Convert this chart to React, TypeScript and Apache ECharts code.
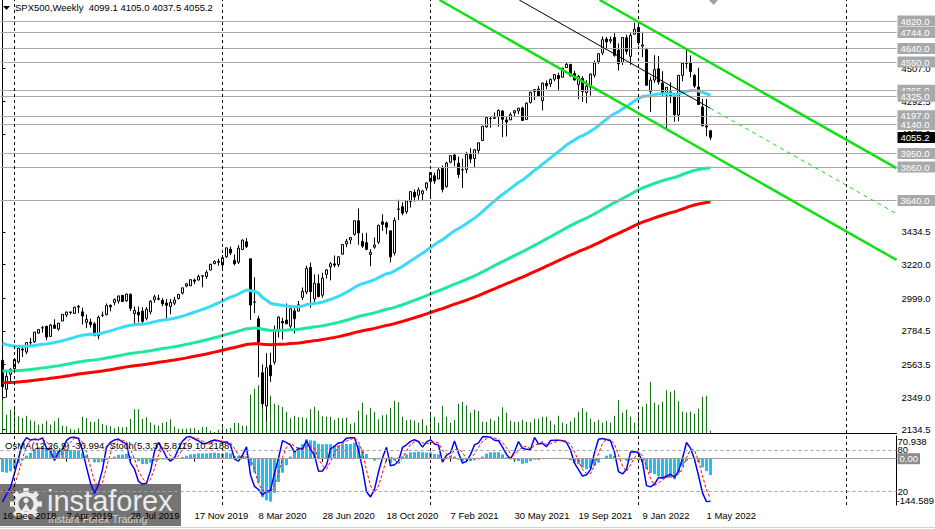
import React, { useEffect, useRef } from "react";
import * as echarts from "echarts";

// ---------- time axis ----------
const weekCount = 224; // weekly slots on the time axis (16 Dec 2018 ... end of shift area)
const labelStep = 16;
const dateLabels = [
  "16 Dec 2018", "7 Apr 2019", "28 Jul 2019", "17 Nov 2019", "8 Mar 2020", "28 Jun 2020",
  "18 Oct 2020", "7 Feb 2021", "30 May 2021", "19 Sep 2021", "9 Jan 2022", "1 May 2022",
];
const yearSeparators = [3, 55, 107, 159, 211];

// ---------- weekly OHLC (from week of 16 Dec 2018) ----------
const open = [
  2590.8, 2400.6, 2498.8, 2535.6, 2580.3, 2657.9, 2644.9, 2706, 2712.4, 2769.3,
  2804.4, 2814.4, 2747.6, 2822.6, 2796, 2848.6, 2888.3, 2908.3, 2898.8, 2940.6,
  2908.9, 2840.2, 2841.9, 2830, 2751.5, 2885.8, 2889.8, 2951.4, 2971.4, 2979.8,
  3017.8, 2981.9, 3024.5, 2898.1, 2907, 2913.5, 2866.7, 2909, 2988.4, 2996.4,
  2983.5, 2967.1, 2944.2, 2965.8, 2996.5, 3032.1, 3079, 3080.3, 3117.9, 3117.4,
  3143.8, 3141.9, 3183.6, 3226, 3240.1, 3217.6, 3271.1, 3321, 3247.2, 3235.7,
  3318.3, 3369, 3257.6, 2974.3, 2863.9, 2508.6, 2290.7, 2558, 2578.3, 2782.5,
  2845.6, 2854.7, 2815, 2915.5, 2913.9, 3004.1, 3038.8, 3199.9, 2993.8, 3094.4,
  3018.6, 3155.3, 3205.1, 3224.3, 3219.8, 3288.3, 3356, 3380.9, 3418.1, 3507.4,
  3371.9, 3363.6, 3285.6, 3333.9, 3367.3, 3500, 3493.5, 3441.4, 3296.2, 3583,
  3600.2, 3566.8, 3634.2, 3694.7, 3675.3, 3684.3, 3723, 3764.6, 3803.1, 3781.9,
  3851.7, 3731.2, 3892.6, 3939.6, 3885.6, 3842.5, 3844.4, 3943, 3916.5, 3969.3,
  4034.4, 4124.7, 4179.8, 4185, 4192, 4228.3, 4169.9, 4170.2, 4216.5, 4229.3,
  4248.9, 4173.4, 4284.9, 4356.5, 4372.4, 4296.4, 4409.6, 4406.9, 4437.8, 4461.7,
  4450.3, 4513.8, 4535.4, 4474.8, 4403, 4442.1, 4348.8, 4385.4, 4463.7, 4553.7,
  4610.6, 4701.5, 4689.3, 4712, 4628.8, 4548.4, 4710.3, 4587.9, 4733, 4778.1,
  4655.3, 4632.2, 4356.3, 4431.8, 4505.8, 4412.6, 4332.7, 4354.2, 4327, 4202.8,
  4462.4, 4541.1, 4548, 4462.6, 4385.6, 4255.3, 4130.6, 4099.1,
];
const high = [
  2601, 2520.3, 2538, 2597.8, 2675.5, 2681.1, 2708, 2738, 2775.7, 2795,
  2816.9, 2816.9, 2830.7, 2860.3, 2836, 2893.4, 2910.5, 2909.6, 2939.9, 2954.1,
  2937.3, 2892.2, 2864.4, 2841.4, 2884, 2910.6, 2964.2, 2959, 2996, 3013.9,
  3018.3, 3028, 3029.3, 2943.3, 2943.3, 2939.1, 2940.4, 2985.9, 3021, 3022.4,
  2999.2, 2992.5, 2993.3, 3008.3, 3027.4, 3066.9, 3097.8, 3120.5, 3127.6, 3154.3,
  3150.6, 3182.7, 3225.6, 3247.9, 3258.1, 3283, 3329.9, 3337.8, 3285.9, 3348,
  3385.1, 3393.5, 3259.8, 3136.7, 2882.6, 2563, 2637, 2641.4, 2818.6, 2879.2,
  2869, 2964.2, 2930.2, 2945.8, 2980.3, 3068.7, 3211.7, 3233.1, 3155.5, 3155.5,
  3165.8, 3190, 3236, 3279.3, 3272.2, 3352.5, 3387.9, 3400, 3509.2, 3588.1,
  3425.6, 3428.9, 3320.3, 3397.2, 3482.3, 3549.9, 3502.4, 3441.4, 3529, 3646,
  3628.5, 3644.3, 3699.2, 3712.4, 3726.7, 3711.2, 3760.2, 3826.7, 3823.6, 3861.5,
  3870.9, 3894.6, 3937.2, 3950.4, 3928.7, 3914.5, 3960.3, 3983.9, 3978.2, 4020.6,
  4129.5, 4191.3, 4194.2, 4218.8, 4238, 4236.4, 4188.1, 4219.3, 4234.1, 4249.7,
  4257.7, 4286.1, 4355.4, 4372, 4393.7, 4415.2, 4430, 4440.8, 4468, 4480.3,
  4513.3, 4545.9, 4535.4, 4492.8, 4465.4, 4457.3, 4430, 4475.8, 4559.7, 4608.1,
  4718.5, 4714.9, 4717.8, 4743.8, 4673, 4713.6, 4731, 4740.7, 4808.9, 4818.6,
  4748.8, 4632.2, 4453.2, 4595.3, 4590, 4490.4, 4385, 4416.8, 4327, 4465.4,
  4546, 4637.3, 4593.5, 4471, 4512.9, 4308.5, 4307.7, 4105,
];
const low = [
  2409, 2346.6, 2443.9, 2524.6, 2569.3, 2612.7, 2631.3, 2681.8, 2703.8, 2766,
  2772, 2722.3, 2746, 2800.4, 2785, 2848.6, 2873.3, 2891.9, 2898.4, 2900.5,
  2825.4, 2801.4, 2805.5, 2750.5, 2728.8, 2874.7, 2887.3, 2912.5, 2952.2, 2963.4,
  2975.3, 2975, 2914.1, 2822.1, 2839.6, 2835, 2853, 2891.9, 2968.3, 2985,
  2945.5, 2855.9, 2892.7, 2952.1, 2990.1, 3023.2, 3069.9, 3078.3, 3091.4, 3117.4,
  3070.3, 3125.5, 3182.7, 3222.1, 3212, 3181, 3263.6, 3281.5, 3214.6, 3223.1,
  3315.2, 3328.5, 2855.8, 2901.5, 2478.9, 2280.5, 2191.9, 2447.5, 2562.2, 2739.5,
  2727.1, 2827.8, 2797.9, 2766.6, 2913.9, 2986.5, 3025.8, 2936.9, 2965.7, 3004.6,
  3000.9, 3127.7, 3115.9, 3200.8, 3204.1, 3284.5, 3333.5, 3354.7, 3409.5, 3349.6,
  3329.3, 3313.9, 3209.5, 3323.7, 3354.5, 3441.4, 3419.9, 3233.9, 3279.7, 3511.9,
  3543.8, 3552.6, 3594.4, 3633.4, 3645.8, 3636.5, 3703.8, 3662.7, 3749.6, 3781.9,
  3694.1, 3725.6, 3884.9, 3865.6, 3789, 3723.3, 3819.8, 3885.7, 3853.5, 3944.3,
  4034.4, 4118.4, 4118.8, 4176.8, 4126, 4056.9, 4061.4, 4170.2, 4188.5, 4207.6,
  4164.4, 4173.4, 4278.3, 4300.2, 4321.3, 4233.1, 4372.5, 4385.8, 4424.7, 4367.7,
  4450.3, 4513.8, 4457.7, 4427.8, 4305.9, 4288.5, 4278.9, 4329.9, 4447.5, 4537.4,
  4595.1, 4630.9, 4672.8, 4585.4, 4495.1, 4531.3, 4600.2, 4531.1, 4733, 4662.7,
  4582.2, 4395.3, 4222.6, 4414, 4401.4, 4327.2, 4114.7, 4279.5, 4157.9, 4161.7,
  4424.3, 4507.6, 4450.3, 4381.3, 4267.6, 4128, 4062.5, 4037.5,
];
const close = [
  2416.6, 2485.7, 2531.9, 2596.3, 2670.7, 2664.8, 2706.5, 2707.9, 2775.6, 2792.7,
  2803.7, 2743.1, 2822.5, 2800.7, 2834.4, 2892.7, 2907.4, 2905, 2939.9, 2945.6,
  2881.4, 2859.5, 2826.1, 2752.1, 2873.3, 2887, 2950.5, 2941.8, 2990.4, 3013.8,
  2976.6, 3025.9, 2932.1, 2918.7, 2888.7, 2847.1, 2926.5, 2978.7, 3007.4, 2992.1,
  2961.8, 2952, 2970.3, 2986.2, 3022.6, 3066.9, 3093.1, 3120.5, 3110.3, 3141,
  3145.9, 3168.8, 3221.2, 3240, 3234.9, 3265.4, 3329.6, 3295.5, 3225.5, 3327.7,
  3380.2, 3337.8, 2954.2, 2972.4, 2711, 2304.9, 2541.5, 2488.7, 2789.8, 2874.6,
  2836.7, 2830.7, 2929.8, 2863.7, 2955.5, 3044.3, 3193.9, 3041.3, 3097.7, 3009.1,
  3130, 3185, 3224.7, 3215.6, 3271.1, 3351.3, 3373, 3397.2, 3508, 3427,
  3341, 3319.5, 3298.5, 3348.4, 3477.1, 3483.3, 3465.4, 3270, 3509.4, 3585.2,
  3557.5, 3638.4, 3699.1, 3663.5, 3709.4, 3703.1, 3756.1, 3824.7, 3768.3, 3841.5,
  3714.2, 3886.8, 3934.8, 3906.7, 3811.2, 3841.9, 3943.3, 3913.1, 3974.5, 4019.9,
  4128.8, 4185.5, 4180.2, 4181.2, 4232.6, 4173.9, 4155.9, 4204.1, 4229.9, 4247.4,
  4166.5, 4280.7, 4352.3, 4369.6, 4327.2, 4411.8, 4395.3, 4436.5, 4468, 4441.7,
  4509.4, 4535.4, 4458.6, 4433, 4455.5, 4357, 4391.3, 4471.4, 4544.9, 4605.4,
  4697.5, 4682.9, 4698, 4594.6, 4538.4, 4712, 4620.6, 4725.8, 4766.2, 4677,
  4662.9, 4397.9, 4431.9, 4500.5, 4418.6, 4348.9, 4384.7, 4328.9, 4204.3, 4463.1,
  4543.1, 4545.9, 4488.3, 4392.6, 4271.8, 4131.9, 4123.3, 4055.2,
];
// tick volume (thousands)
const volume = [
  333, 183, 233, 250, 167, 150, 173, 127, 117, 83,
  93, 123, 83, 117, 150, 73, 67, 43, 33, 47,
  163, 150, 113, 113, 140, 90, 77, 67, 47, 63,
  57, 63, 140, 237, 237, 140, 157, 107, 83, 73,
  100, 113, 137, 63, 43, 43, 43, 47, 50, 30,
  60, 60, 23, 10, 33, 57, 43, 50, 100, 100,
  73, 73, 383, 443, 477, 500, 450, 373, 293, 280,
  260, 213, 147, 173, 157, 157, 147, 237, 263, 223,
  167, 163, 163, 133, 153, 147, 153, 93, 103, 223,
  303, 183, 253, 213, 137, 177, 183, 253, 323, 307,
  163, 127, 133, 123, 103, 137, 77, 213, 163, 103,
  273, 163, 103, 130, 293, 313, 277, 203, 233, 220,
  113, 113, 143, 123, 163, 257, 203, 123, 113, 113,
  133, 113, 107, 143, 143, 163, 163, 123, 83, 173,
  103, 93, 117, 153, 213, 247, 213, 143, 113, 133,
  103, 123, 103, 173, 327, 203, 233, 163, 103, 210,
  263, 293, 513, 303, 283, 313, 427, 413, 427, 317,
  213, 203, 213, 193, 243, 363, 373, 23,
];
// weeks before the first visible bar (Aug-Dec 2018), used only to warm up the oscillators
const preClose = [2840.4, 2833.3, 2850.1, 2874.7, 2901.5, 2871.7, 2905, 2929.7, 2914, 2885.6, 2767.1, 2767.8, 2658.7, 2723.1, 2781, 2736.3, 2632.6, 2760.2, 2633.1, 2600];
const preHigh = [2848, 2863, 2855, 2876, 2916, 2900, 2908, 2940, 2939, 2939, 2891, 2816, 2780, 2756, 2815, 2775, 2746, 2760, 2800, 2685];
const preLow = [2795, 2825, 2802, 2853, 2884, 2864, 2868, 2886, 2904, 2874, 2710, 2737, 2628, 2603, 2717, 2670, 2631, 2649, 2621, 2583];

// indicator settings / seeds (EMA values just before the first visible bar)
const maPeriods = [50, 144, 200];
const maSeeds = [2714, 2522, 2444];
const maColors = ["#38dcf8", "#1ee8a0", "#ff0000"];
const macdSeeds = [2775, 2735];

// ---------- price axis ----------
const priceMin = 2113;
const priceMax = 4958;
const priceTicks = [2134.5, 2349, 2563.5, 2784.5, 2999, 3220, 3434.5, 4078, 4292.5, 4507];
const levels = [4820, 4744, 4640, 4550, 4365, 4325, 4197, 4140, 3950, 3860, 3640];
const lastPrice = 4055.2;

// drawn trend lines: [weekIndex, price]
const channelUpper = [[149.3, 4958], [223.5, 3853]];
const channelLower = [[109.25, 4958], [223.5, 3250]];
const trendThin = [[129.2, 4958], [177, 4246]];
const trendDashed = [[177, 4246], [223.5, 3554]];

// ---------- oscillator window ----------
const osmaMin = -144.589;
const osmaMax = 70.938;
const stochLevels = [80, 20];

const FONT = "'Liberation Sans', Arial, sans-serif";

function ema(values: number[], period: number, seed: number): number[] {
  const k = 2 / (period + 1);
  let e = seed;
  return values.map((v) => (e = e + k * (v - e)));
}
function sma(values: number[], n: number): number[] {
  return values.map((_, i) => {
    const s = values.slice(Math.max(0, i - n + 1), i + 1);
    return s.reduce((a, b) => a + b, 0) / s.length;
  });
}

export default function App() {
  const ref = useRef<HTMLDivElement>(null);

  useEffect(() => {
    const chart = echarts.init(ref.current!, null, { renderer: "svg" });
    const cats = Array.from({ length: weekCount }, (_, i) => String(i));
    const pre = preClose.length;

    // moving averages
    const mas = maPeriods.map((p, k) => ema(close, p, maSeeds[k]).map((v) => +v.toFixed(2)));

    // OsMA(12,26,9)
    const allClose = preClose.concat(close);
    const allHigh = preHigh.concat(high);
    const allLow = preLow.concat(low);
    const e12 = ema(allClose, 12, macdSeeds[0]);
    const e26 = ema(allClose, 26, macdSeeds[1]);
    const macd = e12.map((v, i) => v - e26[i]);
    const sig = sma(macd, 9);
    const osma = macd.map((v, i) => +(v - sig[i]).toFixed(3)).slice(pre);

    // Stochastic(5,3,3)
    const num: number[] = [];
    const den: number[] = [];
    allClose.forEach((c, i) => {
      const a = Math.max(0, i - 4);
      const hh = Math.max(...allHigh.slice(a, i + 1));
      const ll = Math.min(...allLow.slice(a, i + 1));
      num.push(c - ll);
      den.push(hh - ll);
    });
    const kLine = allClose.map((_, i) => {
      const a = Math.max(0, i - 2);
      const n = num.slice(a, i + 1).reduce((x, y) => x + y, 0);
      const d = den.slice(a, i + 1).reduce((x, y) => x + y, 0);
      return d === 0 ? 50 : (100 * n) / d;
    });
    const dLine = sma(kLine, 3);
    const stochK = kLine.slice(pre).map((v) => +v.toFixed(2));
    const stochD = dLine.slice(pre).map((v) => +v.toFixed(2));

    const tickShown = (i: number) => i % labelStep === 0 && i / labelStep < dateLabels.length;
    const txt = { fontFamily: FONT, fontSize: 9.5, color: "#000" };
    const logoColor = "#ececec";

    const teeth = [0, 1, 2, 3, 4, 5, 6, 7].map((k) => ({
      type: "rect",
      x: 26,
      y: 504,
      rotation: (k * Math.PI) / 4,
      shape: { x: -2.6, y: -16, width: 5.2, height: 5.5 },
      style: { fill: logoColor },
    }));

    const option: any = {
      animation: false,
      backgroundColor: "#ffffff",
      title: [
        {
          text: "SPX500,Weekly  4099.1 4105.0 4037.5 4055.2",
          left: 15,
          top: 2,
          padding: 0,
          textStyle: { ...txt, fontWeight: "normal" },
        },
        {
          text: "OsMA(12,26,9) -30.994  Stoch(5,3,3) 5.8119 10.2188",
          left: 5,
          top: 440,
          padding: 0,
          textStyle: { ...txt, fontWeight: "normal" },
        },
      ],
      grid: [
        { left: 0.5, top: 0, width: 896, height: 433, outerBoundsMode: "none" },
        { left: 0.5, top: 436, width: 896, height: 69, outerBoundsMode: "none" },
      ],
      xAxis: [
        {
          type: "category", gridIndex: 0, data: cats, boundaryGap: true,
          axisLine: { show: true, lineStyle: { color: "#000", width: 1 } },
          axisTick: { show: false }, axisLabel: { show: false }, splitLine: { show: false },
        },
        { type: "value", gridIndex: 0, min: -0.5, max: weekCount - 0.5, show: false },
        {
          type: "category", gridIndex: 1, data: cats, boundaryGap: true, position: "bottom",
          axisLine: { show: true, lineStyle: { color: "#000", width: 1 } },
          axisTick: { show: true, interval: tickShown, alignWithLabel: true, length: 3, lineStyle: { color: "#000" } },
          axisLabel: {
            ...txt, interval: tickShown, align: "left", margin: 5,
            formatter: (v: string) => dateLabels[Number(v) / labelStep] ?? "",
          },
          splitLine: { show: false },
        },
        {
          type: "category", gridIndex: 1, data: cats, position: "top",
          axisLine: { show: true, lineStyle: { color: "#000", width: 1 } },
          axisTick: { show: false }, axisLabel: { show: false },
        },
      ],
      yAxis: [
        {
          type: "value", gridIndex: 0, position: "right", min: priceMin, max: priceMax,
          axisLine: { show: true, lineStyle: { color: "#000", width: 1 } },
          axisTick: { show: true, customValues: priceTicks, length: 3, lineStyle: { color: "#000" } },
          axisLabel: { ...txt, customValues: priceTicks, margin: 5, formatter: (v: number) => v.toFixed(1) },
          splitLine: { show: false },
        },
        { type: "value", gridIndex: 0, min: 0, max: 4330, show: false },
        {
          type: "value", gridIndex: 1, position: "right", min: osmaMin, max: osmaMax,
          axisLine: { show: true, lineStyle: { color: "#000", width: 1 } },
          axisTick: { show: false },
          axisLabel: { ...txt, customValues: [osmaMax], margin: 1, verticalAlign: "top", formatter: (v: number) => v.toFixed(3) },
          splitLine: { show: false },
        },
        {
          type: "value", gridIndex: 1, position: "right", min: osmaMin, max: osmaMax,
          axisLine: { show: false }, axisTick: { show: false },
          axisLabel: { ...txt, customValues: [osmaMin], margin: 0, verticalAlign: "bottom", formatter: (v: number) => v.toFixed(3) },
          splitLine: { show: false },
        },
        {
          type: "value", gridIndex: 1, position: "right", min: 0, max: 100,
          axisLine: { show: false }, axisTick: { show: false },
          axisLabel: { ...txt, customValues: stochLevels, margin: 1, formatter: (v: number) => String(Math.round(v)) },
          splitLine: { show: false },
        },
      ],
      series: [
        // horizontal levels (lines)
        {
          type: "line", xAxisIndex: 0, yAxisIndex: 0, data: [], z: 1, silent: true,
          markLine: {
            silent: true, symbol: ["none", "none"], animation: false,
            lineStyle: { color: "#a8a8a8", width: 1, type: "solid" },
            label: { show: false },
            data: levels.map((v) => ({ yAxis: v })),
          },
        },
        // period separators (main)
        {
          type: "line", xAxisIndex: 0, yAxisIndex: 0, data: [], z: 1, silent: true,
          markLine: {
            silent: true, symbol: ["none", "none"], animation: false,
            lineStyle: { color: "#000", width: 1, type: [3, 3] },
            label: { show: false },
            data: yearSeparators.map((v) => ({ xAxis: v })),
          },
        },
        {
          name: "Volume", type: "bar", xAxisIndex: 0, yAxisIndex: 1, data: volume,
          barWidth: 1, itemStyle: { color: "#137313" }, z: 1, silent: true,
        },
        {
          name: "SPX500", type: "candlestick", xAxisIndex: 0, yAxisIndex: 0,
          data: close.map((c, i) => [open[i], c, low[i], high[i]]),
          barWidth: 3, z: 3, silent: true,
          itemStyle: { color: "#ffffff", color0: "#000000", borderColor: "#000000", borderColor0: "#000000", borderWidth: 1 },
        },
        ...mas.map((d, k) => ({
          name: `EMA${maPeriods[k]}`, type: "line", xAxisIndex: 0, yAxisIndex: 0, data: d,
          symbol: "none", z: 4, silent: true,
          lineStyle: { color: maColors[k], width: 3 },
        })),
        {
          type: "line", xAxisIndex: 1, yAxisIndex: 0, data: channelUpper, symbol: "none", z: 5, silent: true,
          lineStyle: { color: "#12e012", width: 2.5 },
        },
        {
          type: "line", xAxisIndex: 1, yAxisIndex: 0, data: channelLower, symbol: "none", z: 5, silent: true,
          lineStyle: { color: "#12e012", width: 2.5 },
        },
        {
          type: "line", xAxisIndex: 1, yAxisIndex: 0, data: trendThin, symbol: "none", z: 5, silent: true,
          lineStyle: { color: "#000", width: 1 },
        },
        {
          type: "line", xAxisIndex: 1, yAxisIndex: 0, data: trendDashed, symbol: "none", z: 5, silent: true,
          lineStyle: { color: "#12e012", width: 1, type: [4, 4] },
        },
        // level labels (boxes on the price scale)
        {
          type: "line", xAxisIndex: 0, yAxisIndex: 0, data: [], z: 8, silent: true, clip: false,
          markLine: {
            silent: true, symbol: ["none", "none"], animation: false,
            lineStyle: { color: "rgba(0,0,0,0)", width: 1 },
            label: {
              show: true, position: "end", distance: 1,
              formatter: (p: any) => Number(p.value).toFixed(1),
              fontFamily: FONT, fontSize: 9.5, color: "#ffffff",
              backgroundColor: "#a9a9a9", padding: [1, 6, 0, 3], lineHeight: 10,
            },
            data: [
              ...levels.map((v) => ({ yAxis: v })),
              { yAxis: lastPrice, label: { backgroundColor: "#000000" } },
            ],
          },
        },
        // ---------- oscillator window ----------
        {
          type: "line", xAxisIndex: 2, yAxisIndex: 2, data: [], z: 1, silent: true, clip: false,
          markLine: {
            silent: true, symbol: ["none", "none"], animation: false,
            lineStyle: { color: "#a0a0a0", width: 1, type: "solid" },
            label: {
              show: true, position: "end", distance: 1, formatter: () => "0.00",
              fontFamily: FONT, fontSize: 9.5, color: "#ffffff",
              backgroundColor: "#8c8c8c", padding: [1, 2, 0, 2], lineHeight: 10,
            },
            data: [{ yAxis: 0 }],
          },
        },
        {
          type: "line", xAxisIndex: 2, yAxisIndex: 2, data: [], z: 1, silent: true,
          markLine: {
            silent: true, symbol: ["none", "none"], animation: false,
            lineStyle: { color: "#000", width: 1, type: [3, 3] },
            label: { show: false },
            data: yearSeparators.map((v) => ({ xAxis: v })),
          },
        },
        {
          name: "OsMA", type: "bar", xAxisIndex: 2, yAxisIndex: 2, data: osma,
          barWidth: 3, itemStyle: { color: "#22bef2" }, z: 2, silent: true,
        },
        {
          name: "Stoch", type: "line", xAxisIndex: 2, yAxisIndex: 4, data: stochK,
          symbol: "none", z: 3, silent: true,
          lineStyle: { color: "#0000ff", width: 1.5 },
          markLine: {
            silent: true, symbol: ["none", "none"], animation: false,
            lineStyle: { color: "#a0a0a0", width: 1, type: [3, 3] },
            label: { show: false },
            data: stochLevels.map((v) => ({ yAxis: v })),
          },
        },
        {
          name: "Signal", type: "line", xAxisIndex: 2, yAxisIndex: 4, data: stochD,
          symbol: "none", z: 3, silent: true,
          lineStyle: { color: "#ff0000", width: 1, type: [3, 2] },
        },
      ],
      graphic: [
        { type: "polygon", shape: { points: [[3, 6], [10, 6], [6.5, 10]] }, style: { fill: "#000" }, z: 10 },
        { type: "polygon", shape: { points: [[709, 0], [718, 0], [713.5, 5]] }, style: { fill: "#a0a0a0" }, z: 10 },
        { type: "line", shape: { x1: 0, y1: 527.5, x2: 935, y2: 527.5 }, style: { stroke: "#c6d4e2", lineWidth: 1 }, z: 10 },
        {
          type: "group",
          z: 100,
          children: [
            { type: "rect", shape: { x: 0, y: 484, width: 181, height: 42 }, style: { fill: "rgba(78,78,78,0.78)" } },
            { type: "ring", shape: { cx: 26, cy: 504, r: 12, r0: 7.5 }, style: { fill: logoColor } },
            ...teeth,
            { type: "circle", shape: { cx: 26, cy: 500.5, r: 2.6 }, style: { fill: logoColor } },
            { type: "polygon", shape: { points: [[21.5, 511], [26, 503.5], [30.5, 511]] }, style: { fill: logoColor } },
            {
              type: "text", x: 47, y: 501,
              style: { text: "instaforex", fontFamily: FONT, fontSize: 29, fill: logoColor, verticalAlign: "middle", align: "left" },
            },
            {
              type: "text", x: 48, y: 518.5,
              style: { text: "Instant Forex Trading", fontFamily: FONT, fontSize: 10.5, fill: "#d6d6d6", verticalAlign: "middle", align: "left" },
            },
          ],
        },
      ],
    };

    chart.setOption(option);
    return () => chart.dispose();
  }, []);

  return (
    <div
      ref={ref}
      style={{ position: "fixed", left: 0, top: 0, width: 935, height: 529, background: "#fff" }}
    />
  );
}
